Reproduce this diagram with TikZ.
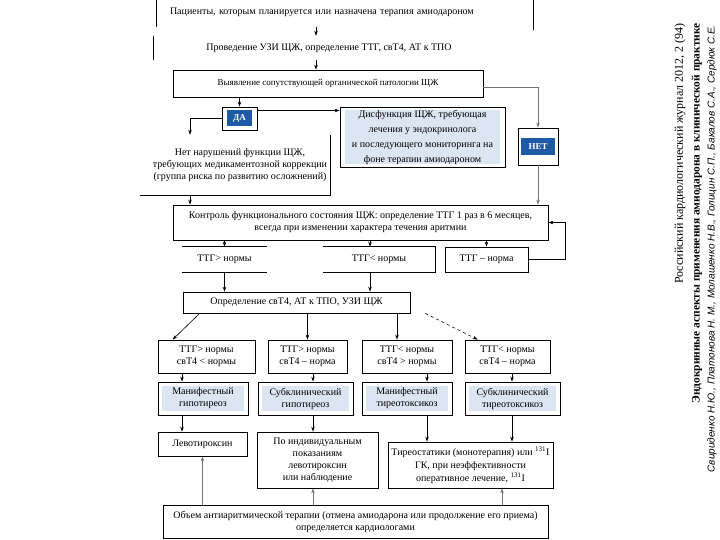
\documentclass[tikz,border=0pt]{standalone}
\usepackage{fontspec}
\setmainfont{Liberation Serif}
\setsansfont{Liberation Sans}
\usetikzlibrary{positioning, arrows.meta, calc}
\definecolor{tagblue}{HTML}{1F5AA6}
\definecolor{paleblue}{HTML}{DCE6F2}
\colorlet{linegray}{black!55}

\begin{document}
\begin{tikzpicture}[
    x=1pt, y=-1pt,
    every node/.style={font=\fontsize{10}{12}\selectfont, inner sep=0pt},
    textbox/.style={draw, rectangle, line width=0.8pt, align=center},
    plainbox/.style={rectangle, align=center},
    framebox/.style={draw, rectangle, line width=0.8pt, fill=white},
    palefill/.style={rectangle, fill=paleblue, align=center},
    tagnode/.style={rectangle, fill=tagblue, text=white, font=\fontsize{9}{11}\selectfont\bfseries},
    sidetext/.style={rotate=90, anchor=east},
    arrow/.style={-{Stealth[length=5pt, width=3.5pt]}, line width=0.6pt},
    rim/.style={line width=0.8pt},
]
\useasboundingbox (0,0) rectangle (720,540);

% column guides for the vertical arrows
\coordinate (spine) at (316,0);
\coordinate (leftdrop) at (190,0);
\coordinate (col1) at (182,0);
\coordinate (col2) at (313,0);
\coordinate (col3) at (427,0);
\coordinate (col4) at (512,0);
\coordinate (col5) at (502,0);

\node[plainbox, align=left, text width=350pt, inner xsep=13pt, minimum height=30pt] (pat) at (345,12) {Пациенты, которым планируется или назначена терапия амиодароном};
\draw[rim] (pat.north west) -- (pat.south west);
\draw[rim] (pat.north east) -- ([yshift=-3pt]pat.south east);

\node[plainbox, minimum width=350pt, minimum height=24pt] (usi) at (329,48) {Проведение УЗИ ЩЖ, определение ТТГ, свТ4, АТ к ТПО};
\draw[rim] (usi.north west) -- (usi.south west);

\node[textbox, minimum width=310pt, minimum height=27pt, font=\fontsize{9}{11}\selectfont] (detect) at (328,83.5) {Выявление сопутствующей органической патологии ЩЖ};

% yes / no branch
\node[framebox, minimum width=35pt, minimum height=23pt] (yes) at (239.5,118.5) {};
\node[tagnode, minimum width=25pt, minimum height=16pt] (yestag) at (yes) {ДА};
\node[framebox, minimum width=40pt, minimum height=37pt] (no) at (538,146.5) {};
\node[tagnode, minimum width=34pt, minimum height=17pt] (notag) at (no) {НЕТ};

\node[plainbox, minimum width=180pt, minimum height=60pt] (nodys) at (240,165) {Нет нарушений функции ЩЖ,\\ требующих медикаментозной коррекции\\ (группа риска по развитию осложнений)};
\draw[rim] (nodys.north east) -- (nodys.south east) -- ([xshift=-10pt]nodys.south west);

\node[framebox, minimum width=165pt, minimum height=60pt] (dys) at (422.5,137) {};
\node[palefill, minimum width=155pt, minimum height=52pt, font=\fontsize{10}{15}\selectfont] (dystext) at (dys) {Дисфункция ЩЖ, требующая\\ лечения у эндокринолога\\ и последующего мониторинга на\\ фоне терапии амиодароном};

\node[textbox, minimum width=375pt, minimum height=35pt] (ctrl) at (360.5,222.5) {Контроль функционального состояния ЩЖ: определение ТТГ 1 раз в 6 месяцев,\\ всегда при изменении характера течения аритмии};

% TSH results
\node[plainbox, minimum width=85pt, minimum height=25pt] (hi) at (224.5,259.5) {ТТГ> нормы};
\draw[rim] (hi.north west) -- (hi.north east);
\draw[rim] (hi.south west) -- (hi.south east);
\node[plainbox, minimum width=112pt, minimum height=25pt] (lo) at (379,259.5) {ТТГ< нормы};
\draw[rim] (lo.north west) -- (lo.north east) -- (lo.south east) -- (lo.south west);
\node[textbox, minimum width=83pt, minimum height=25pt] (norm) at (486.5,259.5) {ТТГ – норма};

\node[textbox, minimum width=227pt, minimum height=21pt] (def) at (296.5,302.5) {Определение свТ4, АТ к ТПО, УЗИ ЩЖ};

% four combinations
\node[textbox, minimum width=97pt, minimum height=33pt] (c1) at (206.5,356.5) {ТТГ> нормы\\ свТ4 < нормы};
\node[textbox, minimum width=79pt, minimum height=33pt] (c2) at (307.5,356.5) {ТТГ> нормы\\ свТ4 – норма};
\node[textbox, minimum width=90pt, minimum height=33pt] (c3) at (407,356.5) {ТТГ< нормы\\ свТ4 > нормы};
\node[textbox, minimum width=85pt, minimum height=33pt] (c4) at (507.5,356.5) {ТТГ< нормы\\ свТ4 – норма};

% diagnoses
\node[framebox, minimum width=90pt, minimum height=33pt] (d1) at (203,398.5) {};
\node[palefill, minimum width=82pt, minimum height=25pt] (d1t) at (d1) {Манифестный\\ гипотиреоз};
\node[framebox, minimum width=95pt, minimum height=33pt] (d2) at (305.5,398.5) {};
\node[palefill, minimum width=87pt, minimum height=25pt] (d2t) at (d2) {Субклинический\\ гипотиреоз};
\node[framebox, minimum width=90pt, minimum height=33pt] (d3) at (407,398.5) {};
\node[palefill, minimum width=82pt, minimum height=25pt] (d3t) at (d3) {Манифестный\\ тиреотоксикоз};
\node[framebox, minimum width=95pt, minimum height=33pt] (d4) at (512.5,398.5) {};
\node[palefill, minimum width=87pt, minimum height=25pt] (d4t) at (d4) {Субклинический\\ тиреотоксикоз};

% treatment
\node[textbox, minimum width=89pt, minimum height=24pt] (levo) at (202.5,444) {Левотироксин};
\node[textbox, minimum width=121pt, minimum height=56pt] (indiv) at (317.5,460) {По индивидуальным\\ показаниям\\ левотироксин\\ или наблюдение};
\node[textbox, minimum width=165pt, minimum height=46pt, font=\fontsize{10}{13}\selectfont] (thyr) at (470.5,465) {Тиреостатики (монотерапия) или \textsuperscript{131}I\\ ГК, при неэффективности\\ оперативное лечение, \textsuperscript{131}I};

\node[textbox, minimum width=385pt, minimum height=33pt] (fin) at (355.5,521.5) {Объем антиаритмической терапии (отмена амиодарона или продолжение его приема)\\ определяется кардиологами};

% side captions
\node[sidetext, font=\fontsize{12}{14}\selectfont] (journal) at (680,23) {Российский кардиологический журнал 2012, 2 (94)};
\node[sidetext, font=\fontsize{11.4}{14}\selectfont\bfseries] (title) at (697,23) {Эндокринные аспекты применения амиодарона в клинической практике};
\node[sidetext, font=\sffamily\itshape\fontsize{10}{12}\selectfont] (authors) at (712,25) {Свириденко Н.Ю., Платонова Н. М., Молашенко Н.В., Голицин С.П., Бакалов С.А., Сердюк С.Е.};

% connectors
\draw[arrow] (pat.south -| spine) -- (usi.north -| spine);
\draw[arrow] (usi.south -| spine) -- (detect.north -| spine);
\draw[arrow] (detect.south -| yes.north) -- (yes.north);
\draw[arrow, linegray] ([yshift=-4pt]detect.east) -| (no.north);
\draw[arrow] (yes.west) -| (nodys.north -| leftdrop);
\draw[arrow] ([yshift=8pt]yes.east) -- ([yshift=8pt]yes.east -| dys.west);
\draw[arrow] (nodys.south -| leftdrop) -- (ctrl.north -| leftdrop);
\draw[arrow, linegray] (no.south) -- (no.south |- ctrl.north);
\draw[arrow] (ctrl.south -| hi.north) -- (hi.north);
\draw[arrow] ([xshift=-9pt]lo.north |- ctrl.south) -- ([xshift=-9pt]lo.north);
\draw[arrow] (ctrl.south -| norm.north) -- (norm.north);
\draw[arrow] (norm.east) -- ++(37,0) |- (ctrl.east);
\draw[arrow] (hi.south) -- (hi.south |- def.north);
\draw[arrow] ([xshift=-9pt]lo.south) -- ([xshift=-9pt]lo.south |- def.north);
\draw[arrow] ([xshift=17pt]def.south west) -- ([xshift=15pt]c1.north west);
\draw[arrow] (def.south -| c2.north) -- (c2.north);
\draw[arrow] ([xshift=-10pt]c3.north |- def.south) -- ([xshift=-10pt]c3.north);
\draw[arrow, dashed] ([xshift=15pt]def.south east) -- ([xshift=13pt]c4.north west);
\draw[arrow] (c1.south -| col1) -- (d1.north -| col1);
\draw[arrow] (c2.south -| col2) -- (d2.north -| col2);
\draw[arrow] (c3.south -| col3) -- (d3.north -| col3);
\draw[arrow] (c4.south -| col4) -- (d4.north -| col4);
\draw[arrow] (d1.south -| col1) -- (levo.north -| col1);
\draw[arrow] (d2.south -| col2) -- (indiv.north -| col2);
\draw[arrow] (d3.south -| col3) -- (thyr.north -| col3);
\draw[arrow] (d4.south -| col4) -- (thyr.north -| col4);
\draw[arrow, linegray] (fin.north -| levo.south) -- (levo.south);
\draw[arrow, linegray] (fin.north -| col2) -- (indiv.south -| col2);
\draw[arrow, linegray] (fin.north -| col5) -- (thyr.south -| col5);
\end{tikzpicture}
\end{document}
